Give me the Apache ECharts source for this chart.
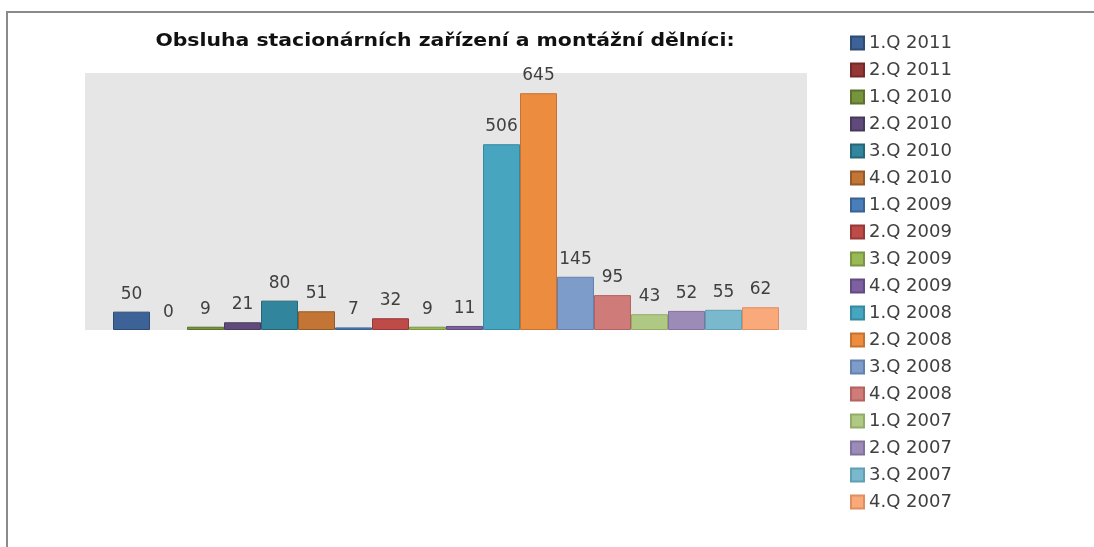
<!DOCTYPE html>
<html>
<head>
<meta charset="utf-8">
<script src="https://cdn.jsdelivr.net/npm/echarts@6/dist/echarts.min.js"></script>
<style>html,body{margin:0;padding:0;background:#fff;}#c{width:1094px;height:547px;}</style>
</head>
<body>
<div id="c"></div>
<script>
var titleText = 'Obsluha stacionárních zařízení a montážní dělníci:';
var categories = ['Obsluha stacionárních zařízení a montážní dělníci'];
var seriesNames = ['1.Q 2011','2.Q 2011','1.Q 2010','2.Q 2010','3.Q 2010','4.Q 2010','1.Q 2009','2.Q 2009','3.Q 2009','4.Q 2009','1.Q 2008','2.Q 2008','3.Q 2008','4.Q 2008','1.Q 2007','2.Q 2007','3.Q 2007','4.Q 2007'];
var seriesValues = [50, 0, 9, 21, 80, 51, 7, 32, 9, 11, 506, 645, 145, 95, 43, 52, 55, 62];
var fillColors = ['#3C6297','#953735','#77933C','#604A7B','#31859C','#C27535','#4A7EBB','#BE4B48','#98B954','#7D60A0','#47A5BF','#EB8C3E','#7E9CC9','#CF7B79','#AFC883','#9D8BB7','#7AB9CD','#F9A97A'];
var borderColors = ['#2E4B74','#722A29','#5B712E','#4A395F','#256677','#955A28','#3A6393','#943A38','#7A9543','#624B7E','#3589A0','#C77230','#6481AD','#B36260','#93AD69','#8270A0','#5FA0B5','#E08E60'];

var chart = echarts.init(document.getElementById('c'));
var series = seriesNames.map(function (n, i) {
  var v = seriesValues[i];
  return {
    name: n,
    type: 'bar',
    barWidth: 37,
    barGap: '0%',
    data: [v === 0 ? { value: v, itemStyle: { borderWidth: 0 } } : v],
    itemStyle: { color: fillColors[i], borderColor: borderColors[i], borderWidth: 1 },
    label: {
      show: true, position: 'top', distance: 9,
      fontFamily: 'DejaVu Sans', fontSize: 17, color: '#404040'
    }
  };
});
chart.setOption({
  animation: false,
  backgroundColor: '#ffffff',
  legend: {
    orient: 'vertical',
    left: 845, top: 29,
    itemWidth: 13, itemHeight: 13, itemGap: 9,
    icon: 'rect',
    textStyle: { fontFamily: 'DejaVu Sans', fontSize: 18, lineHeight: 18, color: '#404040' },
    data: seriesNames
  },
  grid: {
    left: 85, right: 287, top: 73, bottom: 217,
    show: true, backgroundColor: '#e6e6e6', borderWidth: 0
  },
  xAxis: {
    type: 'category', data: categories,
    axisLine: { show: false }, axisTick: { show: false }, axisLabel: { show: false }
  },
  yAxis: {
    type: 'value', min: 0, max: 700, interval: 100,
    axisLine: { show: false }, axisTick: { show: false }, axisLabel: { show: false },
    splitLine: { show: false }
  },
  graphic: [
    { type: 'polyline', shape: { points: [[7, 547], [7, 12], [1094, 12]] },
      style: { stroke: '#8a8a8a', lineWidth: 2, fill: null } },
    { type: 'text', x: 445, y: 42, scaleX: 1.2, scaleY: 1,
      style: { text: titleText, font: 'bold 17px "DejaVu Sans"', fill: '#111111',
               align: 'center', verticalAlign: 'middle' } }
  ],
  series: series
});
</script>
</body>
</html>
